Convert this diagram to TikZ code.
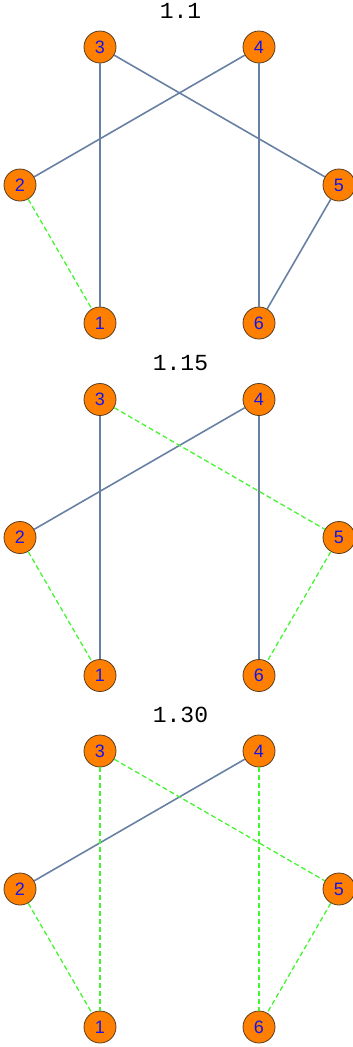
\documentclass[tikz,border=0pt]{standalone}
\usepackage{fontspec}
\setmainfont{Liberation Sans}
\newfontfamily\titlefont{Liberation Mono}
\definecolor{vorange}{RGB}{255,128,0}
\definecolor{vborder}{RGB}{90,60,30}
\definecolor{vblue}{RGB}{20,20,235}
\definecolor{vedge}{RGB}{105,128,165}
\definecolor{vgreen}{RGB}{70,245,50}
\tikzset{
  vert/.style={circle,fill=vorange,draw=vborder,line width=0.8pt,minimum size=32pt,inner sep=0pt,text=vblue,font=\fontsize{18}{18}\selectfont},
  solidedge/.style={draw=vedge,line width=1.6pt},
  dashedge/.style={draw=vgreen,line width=1.3pt,dash pattern=on 5pt off 3pt},
  ttl/.style={font=\titlefont\fontsize{23}{23}\selectfont,text=black,inner sep=0pt}
}
\begin{document}
\begin{tikzpicture}[x=1pt,y=-1pt]
\useasboundingbox (0,0) rectangle (353,1047);
% panel builder
\foreach \p/\t/\oy in {1/1.1/0, 2/1.15/352.5, 3/1.30/704}{
  \node[ttl] (t\p) at (180.5,11+\oy) {\t};
  \coordinate (c3\p) at (100,47+\oy);
  \coordinate (c4\p) at (259,47+\oy);
  \coordinate (c2\p) at (20,185+\oy);
  \coordinate (c5\p) at (339,185+\oy);
  \coordinate (c1\p) at (100,323+\oy);
  \coordinate (c6\p) at (259,323+\oy);
}
% nodes (named), drawn later on top via layers
\begin{scope}
\foreach \p in {1,2,3}{
  \foreach \n in {1,...,6}{
    \node[vert] (n\n\p) at (c\n\p) {\n};
  }
}
\end{scope}
% panel 1 edges
\draw[solidedge] (n31) -- (n11);
\draw[solidedge] (n31) -- (n51);
\draw[solidedge] (n41) -- (n21);
\draw[solidedge] (n41) -- (n61);
\draw[solidedge] (n51) -- (n61);
\draw[dashedge] (n21) -- (n11);
% panel 2 edges
\draw[solidedge] (n32) -- (n12);
\draw[solidedge] (n42) -- (n22);
\draw[solidedge] (n42) -- (n62);
\draw[dashedge] (n32) -- (n52);
\draw[dashedge] (n52) -- (n62);
\draw[dashedge] (n22) -- (n12);
% panel 3 edges
\draw[solidedge] (n43) -- (n23);
\draw[dashedge] (n33) -- (n13);
\draw[dashedge] (n43) -- (n63);
\draw[dashedge] (n33) -- (n53);
\draw[dashedge] (n53) -- (n63);
\draw[dashedge] (n23) -- (n13);
\end{tikzpicture}
\end{document}
